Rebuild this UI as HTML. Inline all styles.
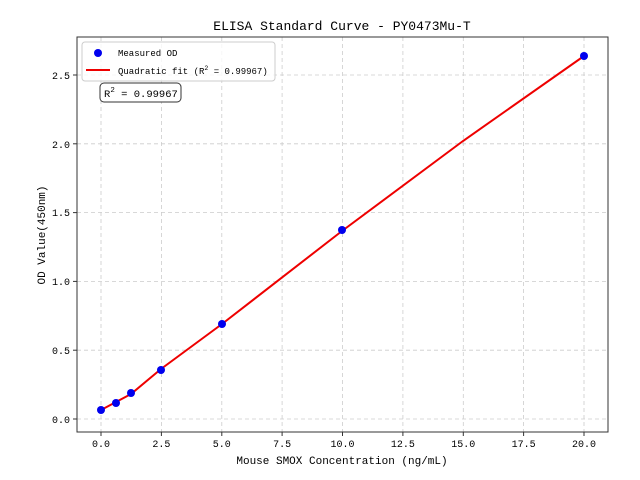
<!DOCTYPE html>
<html><head><style>body{margin:0;background:#fff}svg{display:block}text{font-family:"WenQuanYi Zen Hei Mono","Liberation Mono",monospace;fill:#000}</style></head><body>
<svg width="640" height="480" viewBox="0 0 640 480">
<rect width="640" height="480" fill="#fff"/>
<g stroke="#ccc" stroke-dasharray="4,3" stroke-width="0.8">
<line x1="101" y1="37" x2="101" y2="432"/><line x1="161.4" y1="37" x2="161.4" y2="432"/><line x1="221.8" y1="37" x2="221.8" y2="432"/><line x1="282.1" y1="37" x2="282.1" y2="432"/><line x1="342.5" y1="37" x2="342.5" y2="432"/><line x1="402.9" y1="37" x2="402.9" y2="432"/><line x1="463.3" y1="37" x2="463.3" y2="432"/><line x1="523.6" y1="37" x2="523.6" y2="432"/><line x1="584" y1="37" x2="584" y2="432"/>
<line x1="77" y1="419" x2="608" y2="419"/><line x1="77" y1="350.2" x2="608" y2="350.2"/><line x1="77" y1="281.4" x2="608" y2="281.4"/><line x1="77" y1="212.6" x2="608" y2="212.6"/><line x1="77" y1="143.8" x2="608" y2="143.8"/><line x1="77" y1="75" x2="608" y2="75"/>
</g>
<rect x="77" y="37" width="531" height="395" fill="none" stroke="#333" stroke-width="1"/>
<g stroke="#333"><line x1="101" y1="432" x2="101" y2="436"/><line x1="161.4" y1="432" x2="161.4" y2="436"/><line x1="221.8" y1="432" x2="221.8" y2="436"/><line x1="282.1" y1="432" x2="282.1" y2="436"/><line x1="342.5" y1="432" x2="342.5" y2="436"/><line x1="402.9" y1="432" x2="402.9" y2="436"/><line x1="463.3" y1="432" x2="463.3" y2="436"/><line x1="523.6" y1="432" x2="523.6" y2="436"/><line x1="584" y1="432" x2="584" y2="436"/>
<line x1="73" y1="419" x2="77" y2="419"/><line x1="73" y1="350.2" x2="77" y2="350.2"/><line x1="73" y1="281.4" x2="77" y2="281.4"/><line x1="73" y1="212.6" x2="77" y2="212.6"/><line x1="73" y1="143.8" x2="77" y2="143.8"/><line x1="73" y1="75" x2="77" y2="75"/></g>
<g font-size="10" text-anchor="middle"><text x="101" y="447">0.0</text><text x="161.4" y="447">2.5</text><text x="221.8" y="447">5.0</text><text x="282.1" y="447">7.5</text><text x="342.5" y="447">10.0</text><text x="402.9" y="447">12.5</text><text x="463.3" y="447">15.0</text><text x="523.6" y="447">17.5</text><text x="584" y="447">20.0</text></g>
<g font-size="10" text-anchor="end"><text x="70" y="423">0.0</text><text x="70" y="354">0.5</text><text x="70" y="285">1.0</text><text x="70" y="216">1.5</text><text x="70" y="148">2.0</text><text x="70" y="79">2.5</text></g>
<text x="342" y="464" font-size="11" text-anchor="middle">Mouse SMOX Concentration (ng/mL)</text>
<text transform="translate(45,235) rotate(-90)" font-size="11" text-anchor="middle">OD Value(450nm)</text>
<text x="342" y="30" font-size="13" text-anchor="middle">ELISA Standard Curve - PY0473Mu-T</text>
<polyline fill="none" stroke="#e00" stroke-width="2" points="101,410 116,402 131,394 161,369 222,324 342,231 463,141 584,56"/>
<g fill="#0000ee"><circle cx="101" cy="410" r="4"/><circle cx="116" cy="403" r="4"/><circle cx="131" cy="393" r="4"/><circle cx="161" cy="370" r="4"/><circle cx="222" cy="324" r="4"/><circle cx="342" cy="230" r="4"/><circle cx="584" cy="56" r="4"/></g>
<rect x="82" y="42" width="193" height="39" rx="3" fill="#fff" fill-opacity="0.8" stroke="#ccc"/>
<circle cx="98" cy="53" r="4" fill="#0000ee"/>
<line x1="86" y1="70" x2="110" y2="70" stroke="#e00" stroke-width="2"/>
<text x="118" y="56" font-size="9">Measured OD</text>
<text x="118" y="74" font-size="9">Quadratic fit (R<tspan font-size="6.5" dy="-4">2</tspan><tspan dy="4"> = 0.99967)</tspan></text>
<rect x="100" y="83" width="81" height="19" rx="4" fill="#fff" stroke="#333"/>
<text x="104" y="97" font-size="10.5">R<tspan font-size="7.5" dy="-5">2</tspan><tspan dy="5"> = 0.99967</tspan></text>
</svg>
</body></html>
